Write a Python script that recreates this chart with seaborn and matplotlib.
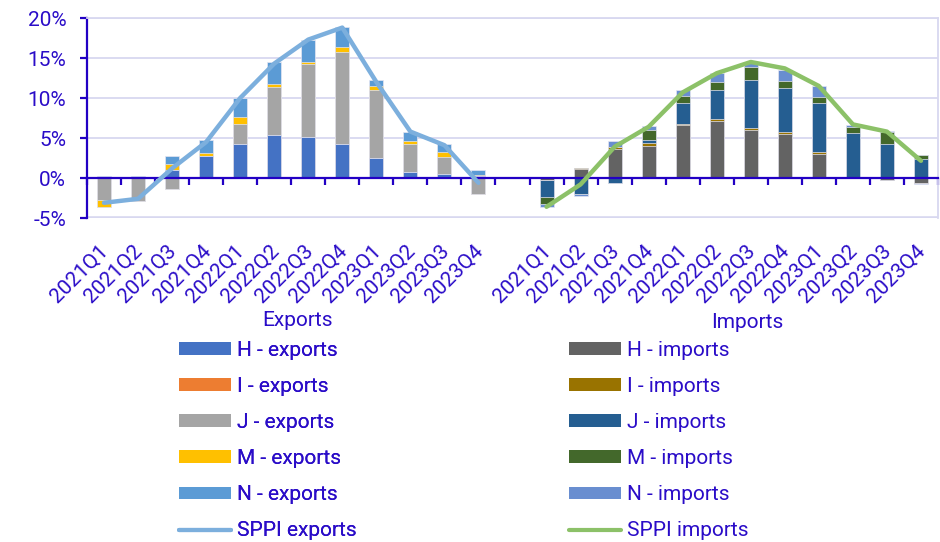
import numpy as np
import pandas as pd
import matplotlib
matplotlib.use("Agg")
import matplotlib.pyplot as plt
import matplotlib.transforms as mtransforms
from matplotlib.patches import Patch
from matplotlib.lines import Line2D
import seaborn as sns

# ---------------- data ----------------
quarters = ["2021Q1", "2021Q2", "2021Q3", "2021Q4",
            "2022Q1", "2022Q2", "2022Q3", "2022Q4",
            "2023Q1", "2023Q2", "2023Q3", "2023Q4"]
groups = ["Exports", "Imports"]

exp_H = [0.0, 0.0, 1.0, 2.7, 4.2, 5.35, 5.1, 4.3, 2.55, 0.7, 0.45, 0.2]
exp_I = [0.0, 0.0, 0.0, 0.0, 0.0, 0.0, 0.0, 0.0, 0.0, 0.0, 0.0, 0.0]
exp_J = [-2.7, -2.9, -1.4, 0.0, 2.5, 6.0, 9.1, 11.5, 8.4, 3.5, 2.2, -2.0]
exp_M = [-0.9, 0.0, 0.7, 0.4, 0.9, 0.4, 0.3, 0.6, 0.5, 0.4, 0.6, 0.2]
exp_N = [0.3, 0.3, 1.0, 1.6, 2.4, 2.7, 2.8, 2.5, 0.75, 1.1, 0.95, 0.6]
sppi_exp = [-3.1, -2.6, 1.2, 4.5, 10.0, 14.3, 17.3, 18.8, 12.0, 5.8, 4.1, -0.6]

imp_H = [-0.3, 1.1, 3.6, 4.0, 6.6, 7.1, 6.05, 5.55, 3.0, 0.05, -0.3, -0.6]
imp_I = [0.0, 0.15, 0.3, 0.4, 0.2, 0.25, 0.25, 0.25, 0.3, 0.0, 0.0, 0.0]
imp_J = [-2.1, -2.05, -0.6, 0.3, 2.55, 3.65, 5.9, 5.45, 6.05, 5.55, 4.3, 2.35]
imp_M = [-0.9, 0.0, 0.0, 1.3, 0.95, 1.05, 1.65, 0.9, 0.8, 0.8, 1.5, 0.55]
imp_N = [-0.3, -0.2, 0.75, 0.5, 0.7, 1.1, 0.65, 1.3, 1.3, 0.2, 0.1, -0.2]
sppi_imp = [-3.6, -0.8, 3.9, 6.4, 10.7, 13.1, 14.5, 13.7, 11.5, 6.7, 5.8, 2.15]

sectors = ["H", "I", "J", "M", "N"]
exp_cols = ["#4472C4", "#ED7D31", "#A5A5A5", "#FFC000", "#5B9BD5"]
imp_cols = ["#636363", "#997300", "#255E91", "#43682B", "#698ED0"]
line_exp_col = "#7CAFDD"
line_imp_col = "#8CC168"

TXT = "#2A0CC8"
AX = "#2200C4"
GRID = "#D8D8F0"
FS = 15

# ---------------- setup ----------------
sns.set_theme(style="white")
plt.rcParams["font.family"] = ["Roboto", "DejaVu Sans"]

fig = plt.figure(figsize=(9.4, 5.42), dpi=100)
L, R, T, B = 87, 938, 18, 218
ax = fig.add_axes([L / 940, 1 - B / 542, (R - L) / 940, (B - T) / 542])

# 25 category slots: exports, gap, imports
order = ["E " + q for q in quarters] + ["gap"] + ["I " + q for q in quarters]
pos = {c: i for i, c in enumerate(order)}

def stack_layers(series_list):
    """Per-layer cumulative heights (positive and negative) for overdraw stacking."""
    arr = np.array(series_list)
    posv = np.clip(arr, 0, None).cumsum(axis=0)
    negv = np.clip(arr, None, 0).cumsum(axis=0)
    return posv, negv

bar_w = 0.41
for prefix, series, cols in [("E ", [exp_H, exp_I, exp_J, exp_M, exp_N], exp_cols),
                             ("I ", [imp_H, imp_I, imp_J, imp_M, imp_N], imp_cols)]:
    posv, negv = stack_layers(series)
    cats = [prefix + q for q in quarters]
    for k in range(len(sectors) - 1, -1, -1):
        for cum in (posv[k], negv[k]):
            df = pd.DataFrame({"cat": cats, "val": cum})
            sns.barplot(data=df, x="cat", y="val", order=order, color=cols[k],
                        saturation=1, width=bar_w, errorbar=None, ax=ax,
                        edgecolor="#E6E6F2", linewidth=0.5, zorder=2)

# lines
ex_x = [pos["E " + q] for q in quarters]
im_x = [pos["I " + q] for q in quarters]
sns.lineplot(x=ex_x, y=sppi_exp, color=line_exp_col, lw=3.2, ax=ax, zorder=4,
             sort=False, solid_capstyle="round", solid_joinstyle="round")
sns.lineplot(x=im_x, y=sppi_imp, color=line_imp_col, lw=3.2, ax=ax, zorder=4,
             sort=False, solid_capstyle="round", solid_joinstyle="round")

# ---------------- axes styling ----------------
ax.set_xlim(-0.5, len(order) - 0.5)
ax.set_ylim(-5, 20)
ax.set_xlabel("")
ax.set_ylabel("")
ax.set_yticks([-5, 0, 5, 10, 15, 20])
ax.set_yticklabels([f"{v}%" for v in [-5, 0, 5, 10, 15, 20]])
ax.yaxis.grid(True, color=GRID, lw=1.3)
ax.set_axisbelow(True)

ax.set_xticks(np.arange(-0.5, len(order), 1.0))
ax.set_xticklabels([])
ax.spines["bottom"].set_position(("data", 0))
ax.spines["bottom"].set_color(AX)
ax.spines["bottom"].set_linewidth(1.6)
ax.spines["bottom"].set_zorder(3)
ax.spines["left"].set_color(AX)
ax.spines["left"].set_linewidth(1.6)
for s in ("top", "right"):
    ax.spines[s].set_color(GRID)
    ax.spines[s].set_linewidth(1.3)
ax.axhline(-5, color=GRID, lw=2.6, clip_on=True, zorder=0)

ax.tick_params(axis="x", which="both", direction="out", length=5, width=1.6,
               color=AX, bottom=True)
ax.tick_params(axis="y", direction="out", length=5, width=1.6, color=AX,
               labelcolor=TXT, labelsize=FS, pad=10, left=True)

# category labels (rotated)
trans = mtransforms.blended_transform_factory(ax.transData, ax.transAxes)
for q in quarters:
    for prefix in ("E ", "I "):
        ax.text(pos[prefix + q] + 0.24, -0.115, q, transform=trans, rotation=45,
                ha="right", va="top", fontsize=FS, color=TXT, clip_on=False)

fig.text(298 / 940, 1 - 320 / 542, groups[0], ha="center", va="center",
         fontsize=FS, color=TXT)
fig.text(747 / 940, 1 - 323 / 542, groups[1], ha="center", va="center",
         fontsize=FS, color=TXT)

# ---------------- legends ----------------
def make_legend(cols, line_col, suffix, x_px):
    handles = [Patch(facecolor=c, edgecolor="none") for c in cols]
    handles.append(Line2D([0], [0], color=line_col, lw=3))
    labels = [f"{s} - {suffix}" for s in sectors] + [f"SPPI {suffix}"]
    leg = fig.legend(handles, labels, loc="upper left",
                     bbox_to_anchor=(x_px / 940, 1 - 341 / 542),
                     frameon=False, fontsize=FS, handlelength=2.5,
                     handleheight=0.58, handletextpad=0.3, labelspacing=0.82,
                     borderpad=0, borderaxespad=0)
    for t in leg.get_texts():
        t.set_color(TXT)
    return leg

leg1 = make_legend(exp_cols, line_exp_col, "exports", 179)
leg2 = make_legend(imp_cols, line_imp_col, "imports", 569)
fig.add_artist(leg1)

fig.savefig("out.png", dpi=100)
